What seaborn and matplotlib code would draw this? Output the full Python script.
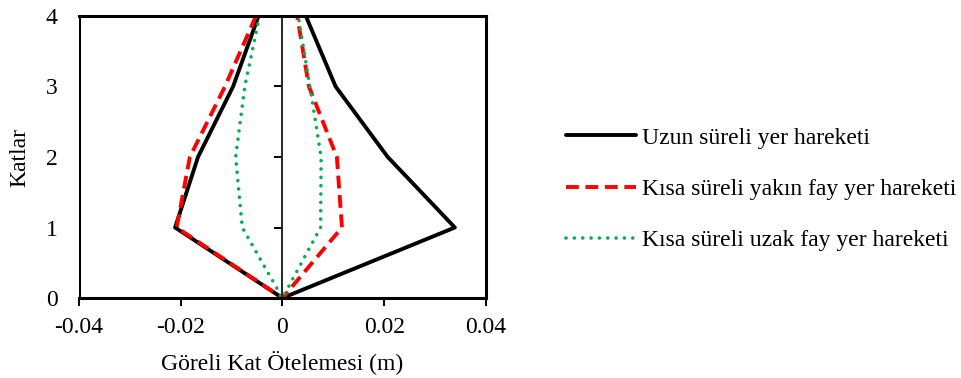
import numpy as np
import pandas as pd
import matplotlib
matplotlib.use("Agg")
import matplotlib.pyplot as plt
import seaborn as sns

# Story levels
floors = [0, 1, 2, 3, 4]

# Relative story drift envelopes (m): negative and positive side per record type
uzun_neg = [0.0, -0.0211, -0.0166, -0.0097, -0.0047]
uzun_pos = [0.0, 0.0339, 0.0207, 0.01045, 0.0046]
yakin_neg = [0.0, -0.0208, -0.0182, -0.0113, -0.0052]
yakin_pos = [0.0, 0.0117, 0.0107, 0.0052, 0.0029]
uzak_neg = [0.0, -0.0079, -0.0092, -0.0074, -0.0045]
uzak_pos = [0.0, 0.0075, 0.0076, 0.0054, 0.0031]

labels = ["Uzun süreli yer hareketi",
          "Kısa süreli yakın fay yer hareketi",
          "Kısa süreli uzak fay yer hareketi"]

x_ticks = [-0.04, -0.02, 0, 0.02, 0.04]
x_tick_labels = ["-0.04", "-0.02", "0", "0.02", "0.04"]
y_ticks = [0, 1, 2, 3, 4]


def envelope(neg, pos, name):
    # trace from the top of the negative side down to the base, then up the positive side
    xs = list(reversed(neg)) + list(pos[1:])
    ys = list(reversed(floors)) + list(floors[1:])
    return pd.DataFrame({"x": xs, "y": ys, "series": name})


df = pd.concat([
    envelope(uzun_neg, uzun_pos, labels[0]),
    envelope(yakin_neg, yakin_pos, labels[1]),
    envelope(uzak_neg, uzak_pos, labels[2]),
], ignore_index=True)

sns.set_style("white")
plt.rcParams["font.family"] = ["Liberation Serif", "DejaVu Serif"]
plt.rcParams.update({"text.color": "black", "axes.labelcolor": "black",
                     "xtick.color": "black", "ytick.color": "black"})

FS = 17

fig = plt.figure(figsize=(9.62, 3.78), dpi=100)
ax = fig.add_axes([0.0821, 0.2116, 0.423, 0.7461])

styles = {
    labels[0]: dict(color="black", lw=2.8, ls="-", cap="butt"),
    labels[1]: dict(color="#ff0000", lw=2.8, ls=(0, (3.3, 1.7)), cap="butt"),
    labels[2]: dict(color="#00b050", lw=2.6, ls=(0, (0.01, 2.3)), cap="round"),
}

handles = []
for name in labels:
    st = styles[name]
    sub = df[df["series"] == name]
    sns.lineplot(data=sub, x="x", y="y", sort=False, estimator=None, ax=ax,
                 color=st["color"], linewidth=st["lw"], linestyle=st["ls"],
                 legend=False, dash_capstyle=st["cap"])
    h, = ax.plot([], [], color=st["color"], lw=st["lw"], ls=st["ls"],
                 dash_capstyle=st["cap"], label=name)
    handles.append(h)

ax.set_xlim(-0.04, 0.04)
ax.set_ylim(0, 4)
ax.set_xticks(x_ticks)
ax.set_xticklabels(x_tick_labels)
ax.set_yticks(y_ticks)

# vertical axis crosses at zero, labels stay at the low end of the box
ax.spines["left"].set_position(("data", 0))
ax.spines["left"].set_linewidth(1.4)
ax.axvline(-0.04, color="black", lw=2.2, zorder=5)
for s in ["top", "right", "bottom"]:
    ax.spines[s].set_color("black")
    ax.spines[s].set_linewidth(2.2)
ax.spines["bottom"].set_zorder(6)

ax.tick_params(axis="y", direction="out", length=6, width=1.4, color="black",
               labelcolor="black", pad=156, labelsize=FS)
ax.tick_params(axis="x", direction="out", length=6, width=1.4, color="black",
               labelcolor="black", pad=8, labelsize=FS)
ax.tick_params(axis="x", bottom=True)
ax.tick_params(axis="y", left=True)

ax.set_xlabel("Göreli Kat Ötelemesi (m)", fontsize=FS, labelpad=8, color="black")
ax.set_ylabel("Katlar", fontsize=FS, color="black")
ax.yaxis.set_label_coords(-0.12, 0.5)

leg = fig.legend(handles=handles, labels=labels, loc="center left",
                 bbox_to_anchor=(0.5665, 0.5), frameon=False, fontsize=FS,
                 handlelength=2.95, handletextpad=0.25, labelspacing=1.25)
for t in leg.get_texts():
    t.set_color("black")

fig.savefig("out.png", dpi=100, facecolor="white")
